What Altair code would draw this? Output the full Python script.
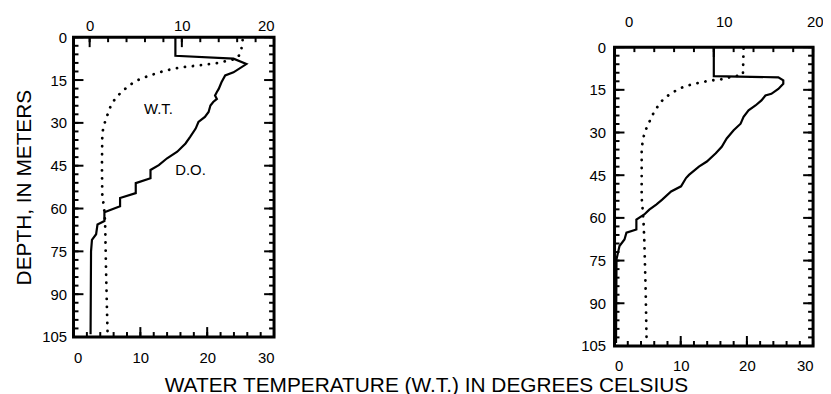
import altair as alt
import pandas as pd

# ---- data ----
# Left profile: dissolved oxygen (D.O., top axis) and water temperature (W.T., bottom axis)
left_do_depth = [0, 6.5, 7.5, 9.4, 12.3, 13.4, 15.8, 18.1, 19.2, 20.4, 21.6, 22.7, 23.9, 26.2,
                 27.9, 29.7, 32.0, 34.9, 37.2, 40.1, 42.4, 44.8, 46.5, 49.4, 51.1, 54.6, 56.3,
                 59.2, 61.3, 64.4, 65.6, 69.0, 71.0, 75.0, 104]
left_do = [9.3, 9.3, 15.6, 17.0, 15.6, 14.7, 14.3, 14.0, 13.8, 13.6, 13.8, 13.4, 13.1, 12.9,
           12.5, 11.8, 11.5, 10.9, 10.4, 9.5, 8.4, 7.5, 6.6, 6.6, 5.0, 5.0, 3.3,
           3.3, 1.6, 1.6, 0.85, 0.7, 0.25, 0.15, 0.1]
left_wt_depth = [1.0, 4.5, 7.2, 8.0, 9.1, 9.9, 10.5, 11.7, 13.4, 14.6, 15.8, 17.5, 19.6, 21.6,
                 24.5, 29.3, 32.6, 35.0, 45, 55, 58.6, 61.5, 67, 80, 95, 104]
left_wt = [25.3, 25.1, 24.6, 23.6, 21.4, 18.6, 16.2, 13.7, 11.4, 10.0, 9.0, 8.0, 7.0, 6.2,
           5.5, 4.75, 4.4, 4.3, 4.25, 4.3, 4.5, 4.65, 4.75, 4.85, 5.0, 5.1]

# Right profile
right_do_depth = [0, 10.2, 10.6, 11.7, 12.9, 14.7, 16.4, 17.0, 18.7, 20.5, 22.2, 24.5, 26.9,
                  29.2, 32.1, 35.0, 37.3, 40.2, 42.0, 44.9, 46.0, 48.9, 50.7, 53.6, 55.3, 57.1,
                  58.8, 60.6, 64.1, 65.2, 67.6, 69.9, 74.5, 104]
right_do = [10.0, 10.0, 16.5, 17.0, 17.0, 16.5, 15.8, 15.2, 14.8, 14.2, 13.5, 13.0, 12.7,
            12.0, 11.3, 10.8, 10.2, 9.3, 8.5, 7.5, 7.2, 6.7, 5.7, 4.8, 4.2, 3.5,
            3.0, 2.2, 2.2, 1.2, 1.0, 0.5, 0.2, 0.15]
right_wt_depth = [0.5, 9.7, 10.8, 11.5, 11.7, 12.3, 12.9, 13.7, 14.7, 16.4, 17.9, 20.1, 22.6,
                  25.1, 27.5, 30.3, 33.3, 35.6, 53, 57.1, 62.3, 68, 85, 104]
right_wt = [19.5, 19.4, 17.0, 15.75, 14.5, 13.25, 12.0, 10.75, 9.65, 8.5, 7.5, 6.75, 6.0,
            5.5, 5.0, 4.5, 4.25, 4.1, 4.1, 4.25, 4.4, 4.5, 4.7, 4.85]

# axis ticks / labels
depth_labels = [0, 15, 30, 45, 60, 75, 90, 105]
depth_minor = list(range(0, 106, 3))
wt_labels = [0, 10, 20, 30]
wt_minor = list(range(0, 31, 2))
do_labels = [0, 10, 20]
do_minor = list(range(0, 21, 2))

text_labels = ["W.T.", "D.O."]
text_wt = [12.7, 17.5]
text_depth = [25.0, 46.5]

FONT = "Liberation Sans"
MAJ, MIN = 10, 5


def panel(do_depth, do_vals, wt_depth, wt_vals, do_domain, W, H, top, ytitle, ylab_pad,
          top_pad, bot_pad, with_text):
    df_do = pd.DataFrame({"depth": do_depth, "do": do_vals, "i": range(len(do_vals))})
    df_wt = pd.DataFrame({"depth": wt_depth, "wt": wt_vals, "i": range(len(wt_vals))})

    yscale = alt.Scale(domain=[0, 105], range=[top, H], nice=False, zero=False)
    yaxis = alt.Axis(values=depth_labels, title=ytitle, labelPadding=ylab_pad,
                     titlePadding=7, titleFontSize=21, titleFontWeight="normal",
                     labelFontSize=15)

    def Y(field="depth"):
        return alt.Y(f"{field}:Q", scale=yscale, axis=yaxis)

    do_scale = alt.Scale(domain=do_domain, nice=False, zero=False)
    wt_scale = alt.Scale(domain=[0, 30], nice=False, zero=False)

    do_line = alt.Chart(df_do).mark_line(color="black", strokeWidth=2.2).encode(
        x=alt.X("do:Q", scale=do_scale,
                axis=alt.Axis(orient="top", values=do_labels, title=None, position=top,
                              labelPadding=top_pad, labelFontSize=15)),
        y=Y(), order="i:Q")
    wt_line = alt.Chart(df_wt).mark_line(color="black", strokeWidth=2.8,
                                         strokeDash=[0.1, 8], strokeCap="round").encode(
        x=alt.X("wt:Q", scale=wt_scale,
                axis=alt.Axis(orient="bottom", values=wt_labels, title=None,
                              labelPadding=bot_pad, labelFontSize=15)),
        y=Y(), order="i:Q")

    dmaj = pd.DataFrame({"depth": depth_labels})
    dmin = pd.DataFrame({"depth": depth_minor})
    layers = [do_line, wt_line]
    for d, L in ((dmaj, MAJ), (dmin, MIN)):
        layers.append(alt.Chart(d).mark_rule(color="black", strokeWidth=2).encode(
            y=Y(), x=alt.value(0), x2=alt.value(L)))
        layers.append(alt.Chart(d).mark_rule(color="black", strokeWidth=2).encode(
            y=Y(), x=alt.value(W), x2=alt.value(W - L)))
    for vals, L in ((do_labels, MAJ), (do_minor, MIN)):
        layers.append(alt.Chart(pd.DataFrame({"v": vals})).mark_rule(
            color="black", strokeWidth=2).encode(
            x=alt.X("v:Q", scale=do_scale, axis=None), y=alt.value(top),
            y2=alt.value(top + L)))
    for vals, L in ((wt_labels, MAJ), (wt_minor, MIN)):
        layers.append(alt.Chart(pd.DataFrame({"v": vals})).mark_rule(
            color="black", strokeWidth=2).encode(
            x=alt.X("v:Q", scale=wt_scale, axis=None), y=alt.value(H), y2=alt.value(H - L)))
    if with_text:
        tdf = pd.DataFrame({"t": text_labels, "wt": text_wt, "depth": text_depth})
        layers.append(alt.Chart(tdf).mark_text(font=FONT, fontSize=15, color="black").encode(
            x=alt.X("wt:Q", scale=wt_scale, axis=None), y=Y(), text="t:N"))
    # plot frame
    layers.append(alt.Chart(pd.DataFrame({"v": [0]})).mark_rect(
        fill="transparent", stroke="black", strokeWidth=3).encode(
        x=alt.value(0), x2=alt.value(W), y=alt.value(top), y2=alt.value(H)))
    return alt.layer(*layers).resolve_scale(x="independent").properties(width=W, height=H)


left = panel(left_do_depth, left_do, left_wt_depth, left_wt, [-1.75, 20], 202, 302, 0,
             "DEPTH, IN METERS", 7, 4, 14, True)
right = panel(right_do_depth, right_do, right_wt_depth, right_wt, [0, 20], 200, 311, 10,
              None, 9, 8, 13, False)

chart = alt.hconcat(left, right, spacing=306).properties(
    title=alt.TitleParams("WATER TEMPERATURE (W.T.) IN DEGREES CELSIUS", orient="bottom",
                          anchor="middle", fontSize=21, fontWeight="normal", font=FONT,
                          offset=1, dx=8, color="black"),
    padding={"left": 5, "top": 5, "right": 0, "bottom": 0},
).configure_axis(
    grid=False, ticks=False, domain=False, labelFont=FONT, titleFont=FONT,
    labelColor="black", titleColor="black",
).configure_view(strokeWidth=0)

chart.save("out.html", embed_options={"renderer": "svg", "actions": False})
